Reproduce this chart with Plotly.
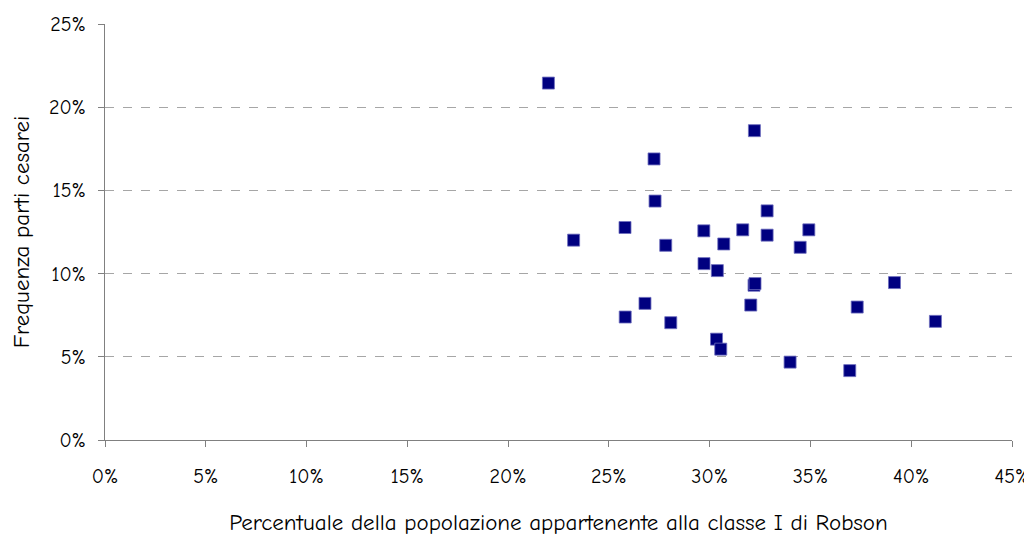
import plotly.graph_objects as go

# Percentuale della popolazione appartenente alla classe I di Robson (%)
robson_class1 = [22.0, 23.25, 25.80, 25.81, 26.79, 27.24, 27.29, 27.82, 28.07, 29.71,
                 29.72, 30.34, 30.38, 30.55, 30.70, 31.64, 32.04, 32.20, 32.25, 32.22,
                 32.85, 32.85, 33.99, 34.49, 34.92, 36.95, 37.32, 39.17, 41.20]
# Frequenza parti cesarei (%)
cesarean_freq = [21.45, 12.01, 12.77, 7.39, 8.21, 16.89, 14.36, 11.70, 7.05, 12.57,
                 10.60, 6.06, 10.18, 5.46, 11.78, 12.63, 8.11, 9.30, 9.40, 18.59,
                 13.77, 12.31, 4.68, 11.58, 12.63, 4.17, 7.99, 9.46, 7.13]

x_vals = [v / 100 for v in robson_class1]
y_vals = [v / 100 for v in cesarean_freq]

FONT = "Comic Sans MS, Comic Neue, Lato, DejaVu Sans, sans-serif"

fig = go.Figure()
fig.add_trace(go.Scatter(
    x=x_vals, y=y_vals, mode="markers",
    marker=dict(symbol="square", size=12, color="#000080",
                line=dict(width=1, color="rgba(110,110,190,0.8)")),
    showlegend=False, cliponaxis=False,
))

fig.update_layout(
    width=1024, height=528,
    margin=dict(l=97, r=20, t=16, b=96),
    paper_bgcolor="white", plot_bgcolor="white",
    font=dict(family=FONT, size=20, color="black"),
    xaxis=dict(
        range=[0, 0.45], tickvals=[i * 0.05 for i in range(10)],
        tickformat=".0%", showgrid=False, zeroline=False, automargin=False,
        showline=True, linecolor="#808080", linewidth=1,
        ticks="outside", ticklen=6, tickcolor="#808080",
        ticklabelstandoff=12,
        title=dict(text="Percentuale della popolazione appartenente alla classe I di Robson",
                   font=dict(size=23), standoff=29),
    ),
    yaxis=dict(
        range=[0, 0.25], tickvals=[i * 0.05 for i in range(6)],
        tickformat=".0%", showgrid=True, gridcolor="#a6a6a6",
        griddash="dash", gridwidth=1, zeroline=False, automargin=False,
        showline=True, linecolor="#808080", linewidth=1,
        ticks="outside", ticklen=6, tickcolor="#808080",
        ticklabelstandoff=8,
        title=dict(text="Frequenza parti cesarei", font=dict(size=23), standoff=22),
    ),
)

fig.write_html("out.html")
